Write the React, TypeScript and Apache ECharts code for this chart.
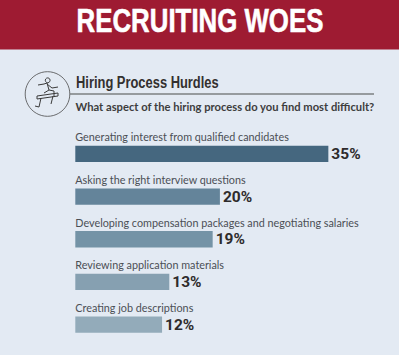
import React, { useEffect, useRef } from "react";
import * as echarts from "echarts";

const categories = [
  "Generating interest from qualified candidates",
  "Asking the right interview questions",
  "Developing compensation packages and negotiating salaries",
  "Reviewing application materials",
  "Creating job descriptions",
];
const values = [35, 20, 19, 13, 12];
const colors = ["#45677f", "#64849a", "#7493a6", "#86a0b1", "#93abba"];
const titleText = "RECRUITING WOES";
const headingText = "Hiring Process Hurdles";
const questionText = "What aspect of the hiring process do you find most difficult?";

const iconStroke = { stroke: "#3a3a3a", lineWidth: 1, fill: "none" };
const limbs: number[][][] = [
  [[38, 85], [44, 84], [47, 83], [49, 90], [44, 93]],
  [[47, 84], [52, 88], [58, 87]],
  [[49, 90], [54, 91], [54, 96]],
  [[37, 96], [58, 93]],
  [[37, 96], [37, 99], [58, 96], [58, 93]],
  [[41, 98], [39, 107], [35, 106]],
  [[53, 96], [51, 104]],
];

export default function App() {
  const ref = useRef<HTMLDivElement>(null);
  useEffect(() => {
    const chart = echarts.init(ref.current!, undefined, { renderer: "svg" });
    chart.setOption({
      animation: false,
      backgroundColor: "#e3eaf3",
      grid: { left: 75.3, top: 132.5, width: 289.2, height: 213.5 },
      xAxis: { type: "value", min: 0, max: 40, show: false },
      yAxis: {
        type: "category",
        inverse: true,
        data: categories,
        axisLine: { show: false },
        axisTick: { show: false },
        splitLine: { show: false },
        axisLabel: {
          inside: true,
          margin: 0,
          align: "left",
          verticalAlign: "bottom",
          lineHeight: 34,
          color: "#4b4f55",
          fontFamily: "Lato",
          fontSize: 10.8,
        },
      },
      graphic: [
        { type: "rect", shape: { x: 0, y: 0, width: 399, height: 49.5 }, style: { fill: "#9e1b32" } },
        {
          type: "text", x: 200, y: 20, scaleX: 0.76,
          style: { text: titleText, fill: "#ffffff", stroke: "#ffffff", lineWidth: 0.6, font: "bold 34px 'Liberation Sans'", align: "center", verticalAlign: "middle" },
        },
        { type: "circle", shape: { cx: 47.5, cy: 94, r: 22.3 }, style: { fill: "none", stroke: "#4a4a4a", lineWidth: 0.8 } },
        { type: "circle", shape: { cx: 47.7, cy: 80.3, r: 2.4 }, style: iconStroke },
        ...limbs.map((points) => ({ type: "polyline", shape: { points }, style: iconStroke })),
        { type: "line", shape: { x1: 70, y1: 94, x2: 374, y2: 94 }, style: { stroke: "#7d8082", lineWidth: 1.5 } },
        {
          type: "text", x: 76, y: 82, scaleX: 0.76,
          style: { text: headingText, fill: "#33302f", font: "bold 17px 'Liberation Sans'", verticalAlign: "middle" },
        },
        {
          type: "text", x: 75.5, y: 106,
          style: { text: questionText, fill: "#3d3d3d", font: "bold 11.2px Lato", verticalAlign: "middle" },
        },
      ],
      series: [
        {
          type: "bar",
          barWidth: 16.3,
          data: values.map((value, i) => ({ value, itemStyle: { color: colors[i] } })),
          label: {
            show: true,
            position: "right",
            distance: 3,
            formatter: "{c}%",
            color: "#2e2b2b",
            fontFamily: "Roboto",
            fontWeight: "bold",
            fontSize: 15.5,
          },
        },
      ],
    });
    return () => chart.dispose();
  }, []);
  return <div ref={ref} style={{ position: "absolute", left: 0, top: 0, width: 399, height: 355 }} />;
}
